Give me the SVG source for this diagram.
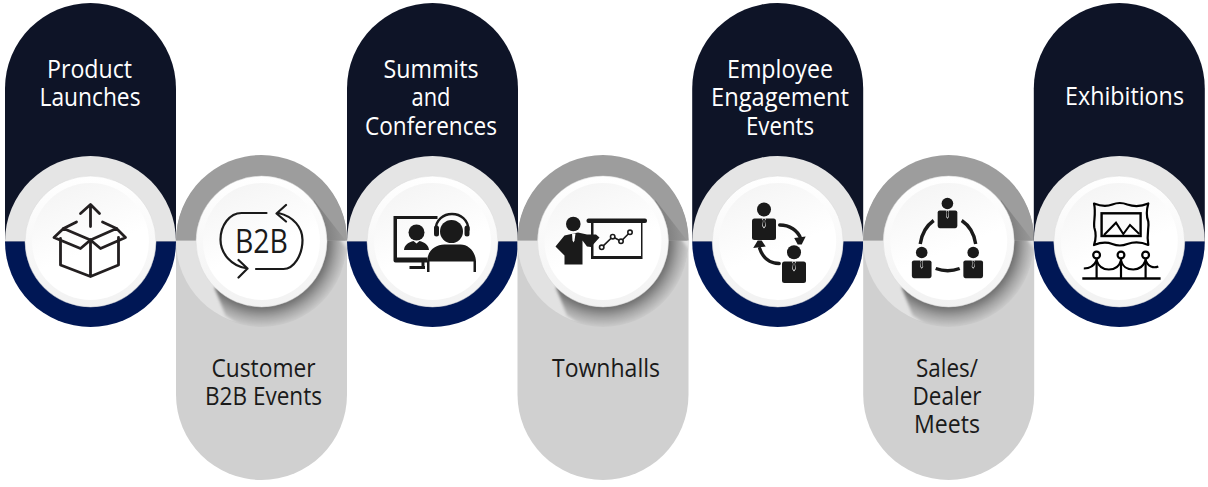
<svg xmlns="http://www.w3.org/2000/svg" xmlns:xlink="http://www.w3.org/1999/xlink" width="1208" height="487" viewBox="0 0 1208 487">
<style>
text{font-family:"Open Sans","Noto Sans",sans-serif;font-size:26px;text-anchor:middle}
.w{fill:#fff}.k{fill:#1a1a1a}
.ln{fill:none;stroke:#231f20;stroke-width:2.8;stroke-linecap:round;stroke-linejoin:round}
.thin{fill:none;stroke:#1a1a1a;stroke-width:2.2;stroke-linecap:round;stroke-linejoin:round}
.fill{fill:#1a1a1a}
.tie{fill:#fff}
</style>
<defs>
<linearGradient id="dO" x1="0" y1="0" x2="0" y2="1"><stop offset="0" stop-color="#fff"/><stop offset="1" stop-color="#f2f2f2"/></linearGradient>
<linearGradient id="dI" x1="0.2" y1="0" x2="0.6" y2="1"><stop offset="0" stop-color="#f4f4f4"/><stop offset="0.6" stop-color="#fff"/></linearGradient>
<radialGradient id="sh" gradientUnits="userSpaceOnUse" cx="0" cy="0" r="86"><stop offset="0.76" stop-color="#6f6f6f"/><stop offset="0.88" stop-color="#a4a4a4"/><stop offset="1" stop-color="#cdcdcd"/></radialGradient>
<radialGradient id="shT" gradientUnits="userSpaceOnUse" cx="0" cy="0" r="86"><stop offset="0.74" stop-color="#7f7f7f"/><stop offset="1" stop-color="#9d9d9d"/></radialGradient>
<clipPath id="ringClip"><circle r="85.5"/></clipPath>
<filter id="soft" x="-20%" y="-20%" width="140%" height="140%"><feGaussianBlur stdDeviation="1.5"/></filter>
<g id="disc"><circle r="65.5" fill="url(#dO)" stroke="#d8d8d8" stroke-width="0.5"/><circle r="58.5" fill="url(#dI)"/></g>
<g id="darkBase">
<path d="M-85.5,0V-153A85.5,85.5 0 0 1 85.5,-153V0Z" fill="#0e1427"/>
<path d="M-85.5,0A85.5,85.5 0 0 1 85.5,0Z" fill="#e5e5e5"/>
<path d="M-85.5,0A85.5,85.5 0 0 0 85.5,0Z" fill="#001755"/>
<use xlink:href="#disc" href="#disc"/>
</g>
<g id="grayBase">
<path d="M-85.5,-1V153A85.5,85.5 0 0 0 85.5,153V-1Z" fill="#d0d0d0"/>
<path d="M-85.5,-1A85.5,85.5 0 0 1 85.5,-1Z" fill="#9d9d9d"/>
<path d="M-85.5,-1A85.5,85.5 0 0 0 85.5,-1Z" fill="#e2e2e2"/>
<g clip-path="url(#ringClip)">
<polygon points="50,-40 95,20 95,100 0,100 -36,74 -47,46" fill="url(#sh)" filter="url(#soft)"/>
<path d="M-85.5,-60H90V-1H-85.5Z" fill="#9d9d9d"/>
<polygon points="52,-42 84,-1 60,-1" fill="url(#shT)"/>
</g>
<use xlink:href="#disc" href="#disc"/>
</g>
<g id="suit">
<rect x="-12" y="0" width="24" height="21.5" rx="2.5" class="fill"/>
<path d="M-2.2,0H2.2L1,2.2 1.8,7.5 0,10 -1.8,7.5 -1,2.2Z" class="tie"/>
<path d="M-1.1,0.6H1.1L0.7,2.4 1.2,7.2 0,8.8 -1.2,7.2 -0.7,2.4Z" class="fill"/>
</g>
</defs>

<g id="connectors"></g>

<g id="node-product-launches">
<use xlink:href="#darkBase" href="#darkBase" x="90.5" y="241.5"/>
<text class="w" x="89.5" y="78" textLength="85" lengthAdjust="spacingAndGlyphs">Product</text>
<text class="w" x="90" y="106" textLength="101" lengthAdjust="spacingAndGlyphs">Launches</text>
<g transform="translate(90.5,241.5)" class="ln">
<path d="M0,-15V-36M-10,-28L0,-37 9,-28"/>
<path d="M-30,-3V23.5L0,35 28,23.5V-4M0,-1.5V35"/>
<path d="M0,-1.5L-27,-13 -36.5,-4 -10,7 0,-1.5 10,7 35,-4 26,-13 0,-1.5"/>
<path d="M-27,-13L-14,-19.5M26,-13L12,-19.5"/>
</g>
</g>

<g id="node-customer-b2b-events">
<use xlink:href="#grayBase" href="#grayBase" x="261.5" y="241.5"/>
<text class="k" x="263.5" y="377" textLength="104" lengthAdjust="spacingAndGlyphs">Customer</text>
<text class="k" x="263.5" y="405" textLength="117" lengthAdjust="spacingAndGlyphs">B2B Events</text>
<g transform="translate(261.5,241.5)">
<path class="thin" d="M5,-28.5H-20C-32,-28.5 -41,-16 -41,-2 -41,12 -30,25 -14,27M-23,18.5L-14,27 -23,36M-5.5,27.5H22C32,27.5 41,14 41,-1.5 41,-14 32,-25 17,-28.5M24.5,-36.5L15,-28 24.5,-20"/>
<text class="k" x="0" y="11.5" style="font-size:33px" textLength="53" lengthAdjust="spacingAndGlyphs">B2B</text>
</g>
</g>

<g id="node-summits-and-conferences">
<use xlink:href="#darkBase" href="#darkBase" x="432.5" y="241.5"/>
<text class="w" x="431" y="78" textLength="95" lengthAdjust="spacingAndGlyphs">Summits</text>
<text class="w" x="431" y="106" textLength="39" lengthAdjust="spacingAndGlyphs">and</text>
<text class="w" x="431" y="135" textLength="132" lengthAdjust="spacingAndGlyphs">Conferences</text>
<g transform="translate(432.5,241.5)">
<path class="fill" d="M-39,-25.5H5V-22.5H-35.5V16H-5.5V21H-37Q-39,21 -39,19Z"/>
<path class="fill" d="M-23,24.5H-7.5V27.5H-23ZM-11,19H-8V27H-11Z"/>
<circle class="fill" cx="-16" cy="-9" r="8"/>
<path class="fill" d="M-28.5,8.5C-28,3 -24,1 -19,-0.5L-16,2 -13,-0.5C-8,1 -4,3 -3.5,8.5Z"/>
<circle class="fill" cx="19" cy="-10" r="11.5"/>
<path fill="none" stroke="#1a1a1a" stroke-width="2.4" d="M3,-11C3,-33 36,-33 36,-11"/>
<rect class="fill" x="1.5" y="-16" width="5" height="11" rx="2.5"/>
<rect class="fill" x="32" y="-16" width="5" height="11" rx="2.5"/>
<path class="fill" d="M-5.5,30.5V20C-5,9 3,3 12,3H28C36,3 43,10 43.5,20V30.5H41V20H-3V30.5Z"/>
</g>
</g>

<g id="node-townhalls">
<use xlink:href="#grayBase" href="#grayBase" x="603" y="241.5"/>
<text class="k" x="606" y="377" textLength="108" lengthAdjust="spacingAndGlyphs">Townhalls</text>
<g transform="translate(603,241.5)">
<rect class="fill" x="-16.5" y="-23" width="60.5" height="4.5" rx="2"/>
<path class="fill" d="M-12,-19H-9.5V14.5H38V-19H39.5V17.5H-12Z"/>
<circle class="fill" cx="-29.7" cy="-17.5" r="7.3"/>
<path class="fill" d="M-38.5,-6L-25,-9 -16,-7 -7,-7 -3.5,-4 -12,5.5 -16,5 -20.5,-1V23H-38.5V14L-47.5,5Z"/>
<path class="tie" d="M-31,-8H-27.5L-28.5,-1 -29.5,1 -30.5,-1Z"/>
<path fill="none" stroke="#1a1a1a" stroke-width="1.6" d="M-1.3,5.8L9.7,-4.8 18,-0.2 27,-9.2"/>
<g fill="#fff" stroke="#1a1a1a" stroke-width="1.6"><circle cx="-1.3" cy="5.8" r="2.2"/><circle cx="9.7" cy="-4.8" r="2.2"/><circle cx="18" cy="-0.2" r="2.2"/><circle cx="27" cy="-9.2" r="2.2"/></g>
</g>
</g>

<g id="node-employee-engagement-events">
<use xlink:href="#darkBase" href="#darkBase" x="777.7" y="241.5"/>
<text class="w" x="780" y="78" textLength="106" lengthAdjust="spacingAndGlyphs">Employee</text>
<text class="w" x="780" y="106" textLength="138" lengthAdjust="spacingAndGlyphs">Engagement</text>
<text class="w" x="780" y="135" textLength="68" lengthAdjust="spacingAndGlyphs">Events</text>
<g transform="translate(777.7,241.5)">
<circle class="fill" cx="-13.7" cy="-32" r="7"/>
<use xlink:href="#suit" href="#suit" x="-13.7" y="-23"/>
<circle class="fill" cx="16.3" cy="10.8" r="7"/>
<use xlink:href="#suit" href="#suit" x="16.3" y="20"/>
<path fill="none" stroke="#1a1a1a" stroke-width="3.4" stroke-linecap="round" d="M2,-16.5C12,-16.5 20,-11 23,-3"/>
<path class="fill" d="M16.5,-3.5L28,-5 24,3 20,3Z"/>
<path fill="none" stroke="#1a1a1a" stroke-width="3.4" stroke-linecap="round" d="M1.5,22C-8,22 -15,16 -18,7"/>
<path class="fill" d="M-24.5,6.5L-20,-1 -16,-1 -12,5Z"/>
</g>
</g>

<g id="node-sales-dealer-meets">
<use xlink:href="#grayBase" href="#grayBase" x="948.7" y="241.5"/>
<text class="k" x="947" y="377" textLength="62" lengthAdjust="spacingAndGlyphs">Sales/</text>
<text class="k" x="947" y="405" textLength="69" lengthAdjust="spacingAndGlyphs">Dealer</text>
<text class="k" x="947" y="433" textLength="66" lengthAdjust="spacingAndGlyphs">Meets</text>
<g transform="translate(948.7,241.5)">
<circle class="fill" cx="-1.3" cy="-38" r="5.8"/>
<use xlink:href="#suit" href="#suit" transform="translate(-1.2,-31) scale(0.82)"/>
<circle class="fill" cx="-27" cy="11" r="5.8"/>
<use xlink:href="#suit" href="#suit" transform="translate(-27,19) scale(0.82)"/>
<circle class="fill" cx="24.5" cy="11" r="5.8"/>
<use xlink:href="#suit" href="#suit" transform="translate(24.5,19) scale(0.82)"/>
<g fill="none" stroke="#1a1a1a" stroke-width="3.4"><path d="M-28.5,2.5C-27,-8 -22,-16 -15,-21"/><path d="M27,2.5C25.5,-8 20.5,-16 13,-21"/><path d="M-13,27C-5,30 3,30 11,27"/></g>
</g>
</g>

<g id="node-exhibitions">
<use xlink:href="#darkBase" href="#darkBase" x="1119.3" y="241.5"/>
<text class="w" x="1124.5" y="105" textLength="119" lengthAdjust="spacingAndGlyphs">Exhibitions</text>
<g transform="translate(1119.3,241.5)">
<path fill="none" stroke="#000" stroke-width="2.2" stroke-linejoin="round" d="M-25.3,-38C-18,-35 -12,-35 -7,-37 -2,-39 3,-39 8,-37 14,-35 22,-35 29,-38 27,-31 27,-25 29,-20 30,-14 27,-8 29,3.5 22,0.5 14,0.5 8,2.5 3,4.5 -2,4.5 -7,2.5 -12,0.5 -18,0.5 -25.3,3.5 -23,-3 -23,-8 -25,-14 -26,-20 -23,-28 -25.3,-38Z"/>
<rect x="-17.7" y="-28.2" width="39" height="22.7" fill="none" stroke="#000" stroke-width="2.4"/>
<path fill="none" stroke="#000" stroke-width="2" d="M-15.3,-6.5L-3.3,-18.8 4,-7.5 10.7,-16.5 20,-7.5"/>
<g fill="none" stroke="#000" stroke-width="2.2">
<path d="M-37,37H41.3" stroke-width="2.4"/>
<circle cx="-22.7" cy="13.5" r="3.4"/><circle cx="1.7" cy="13.5" r="3.4"/><circle cx="26.3" cy="13.5" r="3.4"/>
<path d="M-22.7,17V37M1.7,17V37M26.3,17V37"/>
<path d="M-35.5,27C-29,27 -25,24 -22.7,19 -20,27 -15,28 -10.5,28 -5,28 0,25 1.7,19 4,27 9,28 14,28 19,28 24,25 26.3,19 29,25 34,27 39,25"/>
</g>
</g>
</g>
</svg>
